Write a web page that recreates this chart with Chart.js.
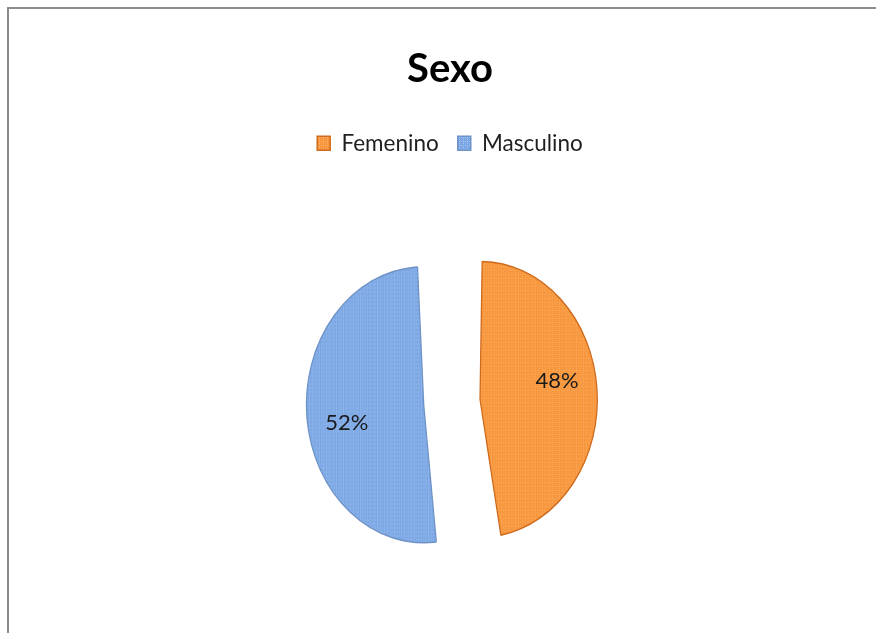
<!DOCTYPE html>
<html>
<head>
<meta charset="utf-8">
<script src="https://cdn.jsdelivr.net/npm/chart.js@4"></script>
<style>
  html, body { margin: 0; padding: 0; background: #fff; overflow: hidden; width: 876px; height: 633px; }
  #frame { position: absolute; left: 7px; top: 7px; width: 885px; height: 660px; border: 2px solid #8c8c8c; background: #fff; }
  canvas { display: block; }
</style>
</head>
<body>
<div id="frame"><canvas id="sexo-chart" width="885" height="660"></canvas></div>
<script>
const categories = ['Femenino', 'Masculino'];
const percentages = [48, 52];
const baseColors = ['#f7963a', '#7ba7e4'];
const dotColors = ['#fbb16c', '#a3c3f0'];
const borderColors = ['#cf6a1c', '#6f93c6'];

// flattened look of the original pie (it is a bit narrower than tall)
const X_SCALE = 0.85;
// pie radius and how far the slices are pulled out, in px
const PIE_RADIUS = 138;
const EXPLODE = 31;

function makePattern(base, dot) {
  const c = document.createElement('canvas');
  c.width = 4; c.height = 4;
  const g = c.getContext('2d');
  g.fillStyle = base;
  g.fillRect(0, 0, 4, 4);
  g.fillStyle = dot;
  g.fillRect(0, 0, 1, 1);
  g.fillRect(2, 2, 1, 1);
  g.fillRect(2, 0, 1, 1);
  return g.createPattern(c, 'repeat');
}

// chart.js moves an arc by offset/4 and grows its radius by offset/4 * fix
function radiusFix(circ) {
  return 1 - Math.sin(Math.min(Math.PI, circ));
}

const squash = {
  id: 'squash',
  beforeDatasetsDraw(chart) {
    const arc = chart.getDatasetMeta(0).data[0];
    const ctx = chart.ctx;
    ctx.save();
    ctx.translate(arc.x, arc.y);
    ctx.scale(X_SCALE, 1);
    ctx.translate(-arc.x, -arc.y);
  },
  afterDatasetsDraw(chart) {
    const ctx = chart.ctx;
    ctx.restore();
    const meta = chart.getDatasetMeta(0);
    ctx.save();
    ctx.font = '22px Lato';
    ctx.fillStyle = '#1a1a1a';
    ctx.textAlign = 'center';
    ctx.textBaseline = 'middle';
    meta.data.forEach((arc, i) => {
      const shift = arc.options.offset / 4;
      const mid = (arc.startAngle + arc.endAngle) / 2;
      const ang = mid - 7 * Math.PI / 180;
      const r = PIE_RADIUS * 0.67;
      const x = arc.x + (Math.cos(mid) * shift + Math.cos(ang) * r) * X_SCALE;
      const y = arc.y + Math.sin(mid) * shift + Math.sin(ang) * r;
      ctx.fillText(percentages[i] + '%', x, y);
    });
    ctx.restore();
  }
};

document.addEventListener('DOMContentLoaded', () => {
  const total = percentages.reduce((a, b) => a + b, 0);
  const ctx = document.getElementById('sexo-chart').getContext('2d');
  new Chart(ctx, {
    type: 'pie',
    data: {
      labels: categories,
      datasets: [{
        data: percentages,
        backgroundColor: baseColors.map((c, i) => makePattern(c, dotColors[i])),
        borderColor: borderColors,
        borderWidth: 1.5,
        // same final radius for both slices
        offset: (c) => 4 * EXPLODE / radiusFix(2 * Math.PI * percentages[c.dataIndex] / total)
      }]
    },
    options: {
      responsive: false,
      animation: false,
      rotation: -1,
      radius: PIE_RADIUS - EXPLODE,
      layout: { padding: { top: 36, bottom: 29, right: 3 } },
      plugins: {
        title: {
          display: true,
          text: 'Sexo',
          color: '#000',
          font: { family: 'Lato', size: 40, weight: 'bold' },
          padding: { top: 0, bottom: 20 }
        },
        legend: {
          position: 'top',
          labels: {
            color: '#1f1f1f',
            font: { family: 'Lato', size: 22.5 },
            boxWidth: 13,
            boxHeight: 14,
            padding: 19
          }
        },
        tooltip: { enabled: false }
      }
    },
    plugins: [squash]
  });
});
</script>
</body>
</html>
